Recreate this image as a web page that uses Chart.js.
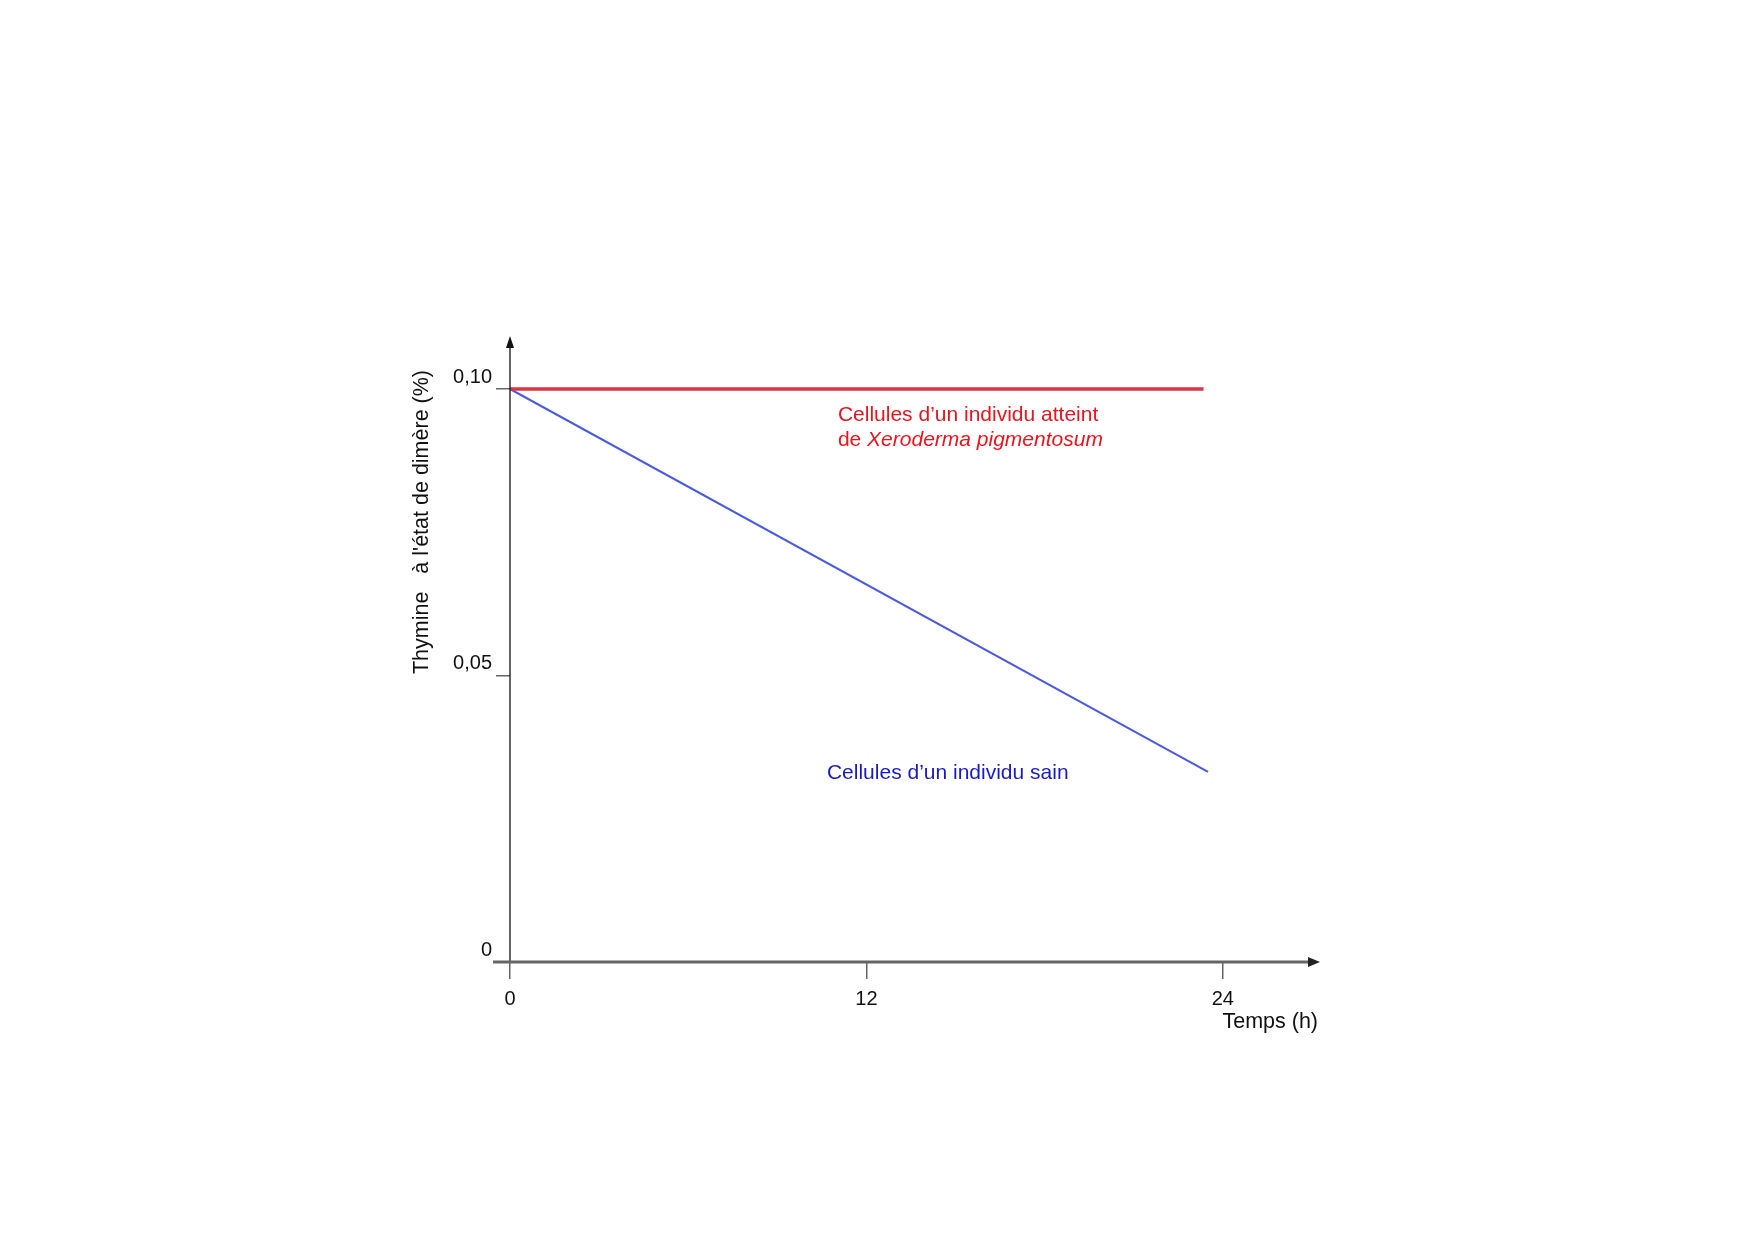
<!DOCTYPE html>
<html>
<head>
<meta charset="utf-8">
<script src="https://cdn.jsdelivr.net/npm/chart.js@4"></script>
<style>
  body { margin: 0; background: #fff; }
</style>
</head>
<body>
<canvas id="chart" width="1754" height="1240"></canvas>
<script>
// data
const hoursXP = [0, 23.35];
const valuesXP = [0.1, 0.1];
const hoursSain = [0, 23.5];
const valuesSain = [0.1, 0.0332];

const xTicks = [0, 12, 24];
const yTicks = [0, 0.05, 0.1];

const font = "'Liberation Sans', Arial, sans-serif";

const toPoints = (xs, ys) => xs.map((x, i) => ({ x: x, y: ys[i] }));

// axes with arrows + free texts
const decor = {
  id: "decor",
  afterDraw(chart) {
    const ctx = chart.ctx;
    const area = chart.chartArea;
    const xs = chart.scales.x;
    const ys = chart.scales.y;
    const x0 = xs.getPixelForValue(0);
    const y0 = ys.getPixelForValue(0);

    ctx.save();
    // y axis
    ctx.strokeStyle = "#111";
    ctx.lineWidth = 1.3;
    ctx.beginPath();
    ctx.moveTo(x0, y0);
    ctx.lineTo(x0, area.top + 6);
    ctx.stroke();
    ctx.fillStyle = "#111";
    ctx.beginPath();
    ctx.moveTo(x0, area.top - 2);
    ctx.lineTo(x0 - 4, area.top + 10);
    ctx.lineTo(x0 + 4, area.top + 10);
    ctx.closePath();
    ctx.fill();

    // x axis
    ctx.strokeStyle = "#666";
    ctx.lineWidth = 3;
    ctx.beginPath();
    ctx.moveTo(x0 - 17, y0);
    ctx.lineTo(area.right - 6, y0);
    ctx.stroke();
    ctx.fillStyle = "#222";
    ctx.beginPath();
    ctx.moveTo(area.right, y0);
    ctx.lineTo(area.right - 12, y0 - 5);
    ctx.lineTo(area.right - 12, y0 + 5);
    ctx.closePath();
    ctx.fill();

    // texts
    ctx.textBaseline = "middle";
    ctx.font = "21.5px " + font;

    ctx.fillStyle = "#111";
    ctx.textAlign = "right";
    ctx.fillText("Temps (h)", area.right - 2, 1022);

    ctx.save();
    ctx.translate(422, 522);
    ctx.rotate(-Math.PI / 2);
    ctx.textAlign = "center";
    ctx.fillText("Thymine   à l'état de dimère (%)", 0, 0);
    ctx.restore();

    ctx.font = "21px " + font;
    ctx.textAlign = "left";
    ctx.fillStyle = "#e8141e";
    const rx = xs.getPixelForValue(11.04);
    ctx.fillText("Cellules d\u2019un individu atteint", rx, ys.getPixelForValue(0.0955));
    const dy = ys.getPixelForValue(0.0911);
    ctx.fillText("de ", rx, dy);
    const w = ctx.measureText("de ").width;
    ctx.font = "italic 21px " + font;
    ctx.fillText("Xeroderma pigmentosum", rx + w, dy);

    ctx.font = "21px " + font;
    ctx.fillStyle = "#1a1ac4";
    ctx.fillText("Cellules d\u2019un individu sain", xs.getPixelForValue(10.67), ys.getPixelForValue(0.033));
    ctx.restore();
  },
};

new Chart(document.getElementById("chart"), {
  type: "line",
  data: {
    datasets: [
      {
        label: "Xeroderma pigmentosum",
        data: toPoints(hoursXP, valuesXP),
        borderColor: "#dc3340",
        borderWidth: 3.5,
        pointRadius: 0,
      },
      {
        label: "sain",
        data: toPoints(hoursSain, valuesSain),
        borderColor: "#4b5ae6",
        borderWidth: 2,
        pointRadius: 0,
      },
    ],
  },
  options: {
    responsive: false,
    animation: false,
    layout: { padding: { left: 400, top: 338, right: 434, bottom: 198 } },
    plugins: { legend: { display: false }, tooltip: { enabled: false } },
    scales: {
      x: {
        type: "linear",
        min: 0,
        max: 27.27,
        afterBuildTicks: (s) => { s.ticks = xTicks.map((v) => ({ value: v })); },
        afterFit: (s) => { s.height = 80; },
        border: { display: false },
        grid: { drawOnChartArea: false, drawTicks: true, tickLength: 17, color: "#666", lineWidth: 1.5 },
        ticks: {
          font: { family: font, size: 20 },
          color: "#111",
          padding: 8,
          maxRotation: 0,
          callback: (v) => String(v),
        },
      },
      y: {
        type: "linear",
        min: 0,
        max: 0.1089,
        afterBuildTicks: (s) => { s.ticks = yTicks.map((v) => ({ value: v })); },
        afterFit: (s) => { s.width = 110; },
        border: { display: false },
        grid: { drawOnChartArea: false, drawTicks: true, tickLength: 14, color: "#666", lineWidth: 1.5 },
        ticks: {
          font: { family: font, size: 20 },
          color: "#111",
          padding: 4,
          labelOffset: -12,
          callback: (v) => (v === 0 ? "0" : v.toFixed(2).replace(".", ",")),
        },
      },
    },
  },
  plugins: [decor],
});
</script>
</body>
</html>
